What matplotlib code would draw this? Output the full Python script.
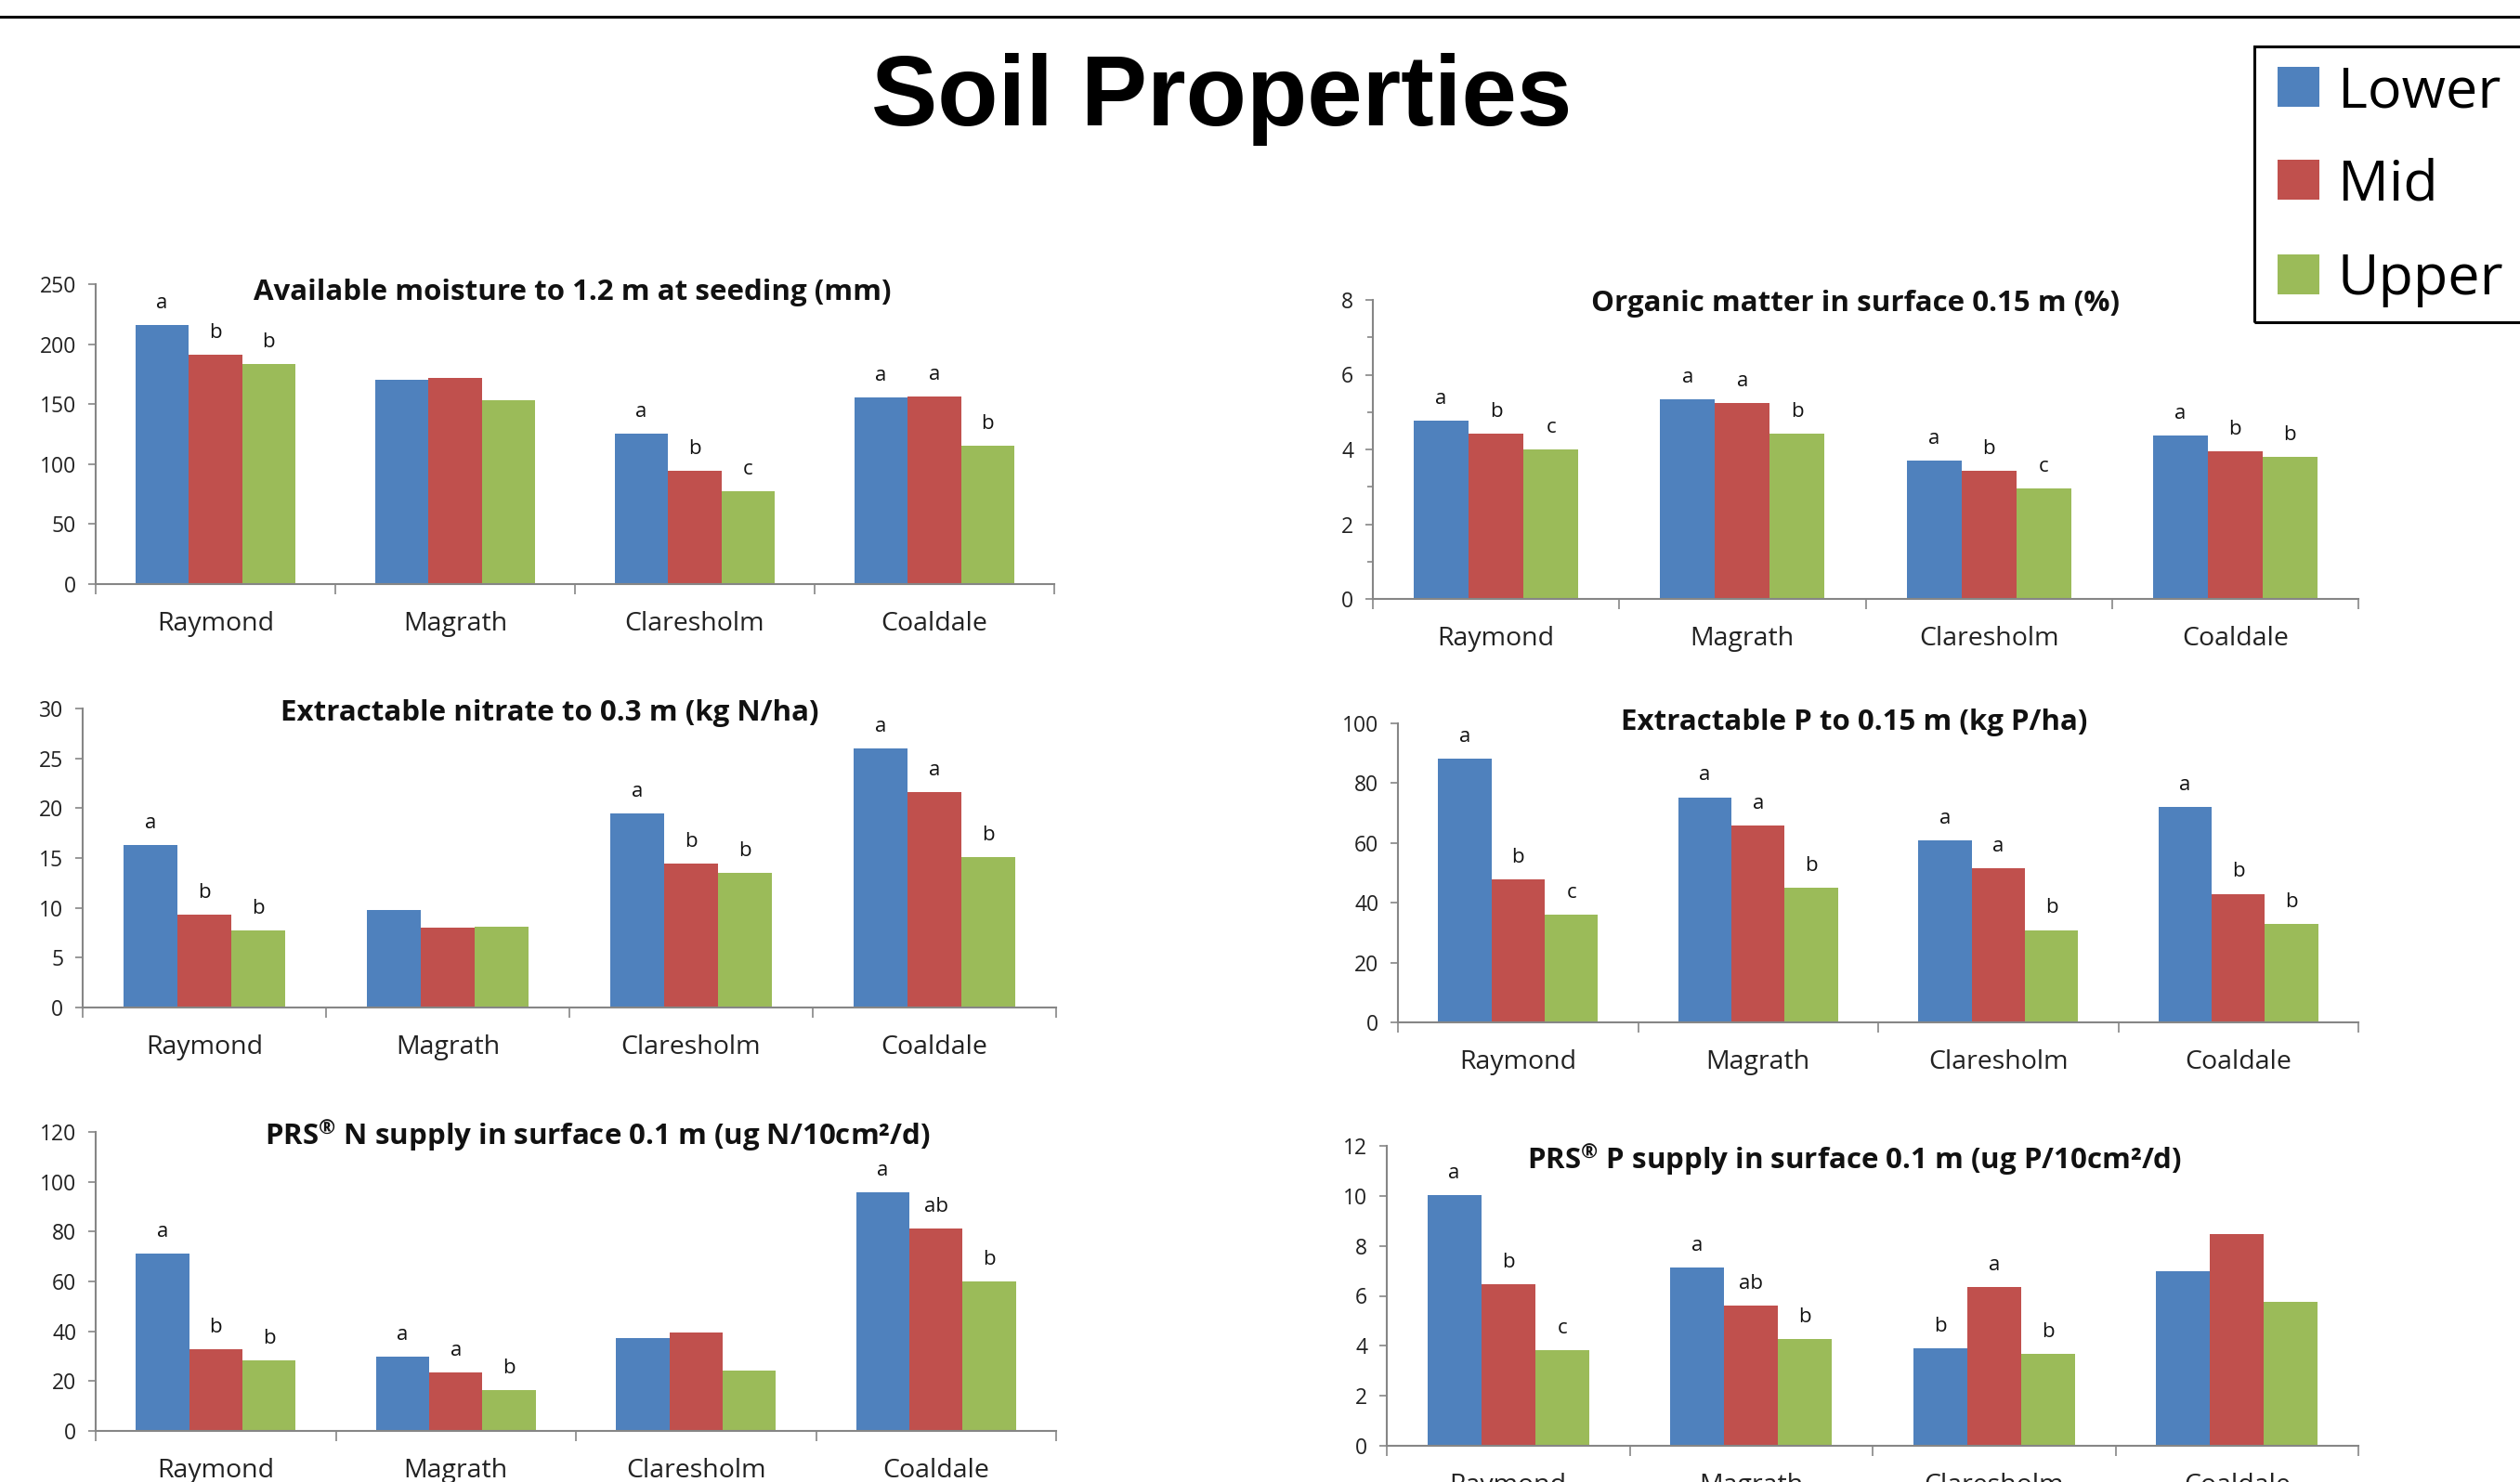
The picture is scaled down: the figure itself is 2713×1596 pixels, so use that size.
import numpy as np
import matplotlib.pyplot as plt
from matplotlib.patches import Rectangle
from matplotlib.lines import Line2D
from matplotlib.ticker import MultipleLocator, FixedLocator, NullFormatter

plt.rcParams['font.family'] = ['Open Sans', 'DejaVu Sans']
plt.rcParams['mathtext.default'] = 'regular'

sites = ['Raymond', 'Magrath', 'Claresholm', 'Coaldale']
slopes = ['Lower', 'Mid', 'Upper']
slope_colors = ['#4F81BD', '#C0504D', '#9BBB59']

# available moisture to 1.2 m at seeding (mm)
moisture_lower = [216, 170.5, 125.4, 155.3]
moisture_mid = [191.4, 171.6, 94.7, 156.6]
moisture_upper = [183.7, 153, 77.1, 115.6]
moisture_letters = [['a', 'b', 'b'], ['', '', ''], ['a', 'b', 'c'], ['a', 'a', 'b']]

# organic matter in surface 0.15 m (%)
om_lower = [4.78, 5.34, 3.71, 4.38]
om_mid = [4.43, 5.23, 3.43, 3.95]
om_upper = [3.99, 4.43, 2.96, 3.79]
om_letters = [['a', 'b', 'c'], ['a', 'a', 'b'], ['a', 'b', 'c'], ['a', 'b', 'b']]

# extractable nitrate to 0.3 m (kg N/ha)
nitrate_lower = [16.3, 9.76, 19.5, 26.0]
nitrate_mid = [9.3, 8.0, 14.4, 21.6]
nitrate_upper = [7.7, 8.1, 13.5, 15.1]
nitrate_letters = [['a', 'b', 'b'], ['', '', ''], ['a', 'b', 'b'], ['a', 'a', 'b']]

# extractable P to 0.15 m (kg P/ha)
extp_lower = [88.3, 75.3, 60.8, 71.9]
extp_mid = [47.9, 65.9, 51.4, 43.0]
extp_upper = [35.9, 44.9, 30.9, 33.0]
extp_letters = [['a', 'b', 'c'], ['a', 'a', 'b'], ['a', 'a', 'b'], ['a', 'b', 'b']]

# PRS N supply in surface 0.1 m
prsn_lower = [71.2, 29.9, 37.1, 95.7]
prsn_mid = [32.9, 23.5, 39.6, 81.4]
prsn_upper = [28.2, 16.3, 24.1, 59.9]
prsn_letters = [['a', 'b', 'b'], ['a', 'a', 'b'], ['', '', ''], ['a', 'ab', 'b']]

# PRS P supply in surface 0.1 m
prsp_lower = [10.02, 7.12, 3.89, 6.98]
prsp_mid = [6.46, 5.62, 6.34, 8.48]
prsp_upper = [3.84, 4.26, 3.67, 5.75]
prsp_letters = [['a', 'b', 'c'], ['a', 'ab', 'b'], ['b', 'a', 'b'], ['', '', '']]

W, H = 2713, 1596
fig = plt.figure(figsize=(W / 100, H / 100), dpi=100)
AXIS_GREY = '#868686'


def fig_box(left, top, right, bottom):
    return [left / W, 1 - bottom / H, (right - left) / W, (bottom - top) / H]


def draw_panel(box, title_xy, title, series, letters, ymax, ystep, minor_step=None):
    ax = fig.add_axes(fig_box(*box))
    x = np.arange(len(sites))
    w = 1 / 4.5
    for j, (vals, color) in enumerate(zip(series, slope_colors)):
        xs = x + (j - 1) * w
        ax.bar(xs, vals, width=w, color=color, edgecolor='none', label=slopes[j])
        for xi, v, site_letters in zip(xs, vals, letters):
            if site_letters[j]:
                ax.annotate(site_letters[j], (xi, v), xytext=(0, 13),
                            textcoords='offset points', ha='center',
                            va='baseline', fontsize=16, color='#111111')
    ax.set_xlim(-0.5, len(sites) - 0.5)
    ax.set_ylim(0, ymax)
    ax.yaxis.set_major_locator(MultipleLocator(ystep))
    if minor_step:
        ax.yaxis.set_minor_locator(MultipleLocator(minor_step))
        ax.tick_params(axis='y', which='minor', length=4, width=1.2, color=AXIS_GREY)

    # category boundaries carry the tick marks, centres carry the names
    ax.xaxis.set_major_locator(FixedLocator(np.arange(-0.5, len(sites), 1.0)))
    ax.xaxis.set_major_formatter(NullFormatter())
    ax.xaxis.set_minor_locator(FixedLocator(x))
    ax.set_xticklabels(sites, minor=True)
    ax.tick_params(axis='x', which='major', length=8, width=1.2, color=AXIS_GREY)
    ax.tick_params(axis='x', which='minor', length=0, pad=21, labelsize=20.5, labelcolor='#222222')
    ax.tick_params(axis='y', which='major', length=6, width=1.2, color=AXIS_GREY,
                   pad=9, labelsize=16.5, labelcolor='#222222')

    for side in ['top', 'right']:
        ax.spines[side].set_visible(False)
    for side in ['left', 'bottom']:
        ax.spines[side].set_color(AXIS_GREY)
        ax.spines[side].set_linewidth(1.5)

    fig.text(title_xy[0] / W, 1 - title_xy[1] / H, title, ha='center', va='center',
             fontsize=22.5, fontweight='bold', color='#111111')
    return ax


draw_panel((103, 306, 1135, 629), (616, 315),
           'Available moisture to 1.2 m at seeding (mm)',
           [moisture_lower, moisture_mid, moisture_upper], moisture_letters, 250, 50)
draw_panel((1478, 323, 2539, 645), (1997, 327),
           'Organic matter in surface 0.15 m (%)',
           [om_lower, om_mid, om_upper], om_letters, 8, 2, minor_step=1)
draw_panel((89, 763, 1137, 1085), (592, 768),
           'Extractable nitrate to 0.3 m (kg N/ha)',
           [nitrate_lower, nitrate_mid, nitrate_upper], nitrate_letters, 30, 5)
draw_panel((1505, 779, 2539, 1101), (1996, 778),
           'Extractable P to 0.15 m (kg P/ha)',
           [extp_lower, extp_mid, extp_upper], extp_letters, 100, 20)
draw_panel((103, 1219, 1137, 1541), (643, 1223),
           'PRS$^{®}$ N supply in surface 0.1 m (ug N/10cm²/d)',
           [prsn_lower, prsn_mid, prsn_upper], prsn_letters, 120, 20)
draw_panel((1493, 1234, 2539, 1557), (1996, 1249),
           'PRS$^{®}$ P supply in surface 0.1 m (ug P/10cm²/d)',
           [prsp_lower, prsp_mid, prsp_upper], prsp_letters, 12, 2)

# page heading and rule
fig.add_artist(Line2D([0, 1], [1 - 18 / H, 1 - 18 / H], transform=fig.transFigure,
                      color='black', linewidth=2.2))
fig.text(1315 / W, 1 - 135 / H, 'Soil Properties', ha='center', va='baseline',
         fontsize=77, fontweight='bold', family='Liberation Sans')

# shared legend box, running off the right edge
fig.add_artist(Rectangle((2427 / W, 1 - 347 / H), (W + 20 - 2427) / W, (347 - 50) / H,
                         transform=fig.transFigure, fill=False, edgecolor='black',
                         linewidth=2.2, clip_on=False))
for name, color, base in zip(slopes, slope_colors, [115, 215, 317]):
    fig.add_artist(Rectangle((2452 / W, 1 - base / H), 45 / W, 43 / H,
                             transform=fig.transFigure, facecolor=color, edgecolor='none'))
    fig.text(2517 / W, 1 - base / H, name, ha='left', va='baseline', fontsize=44)

fig.savefig('out.png', dpi=100)
